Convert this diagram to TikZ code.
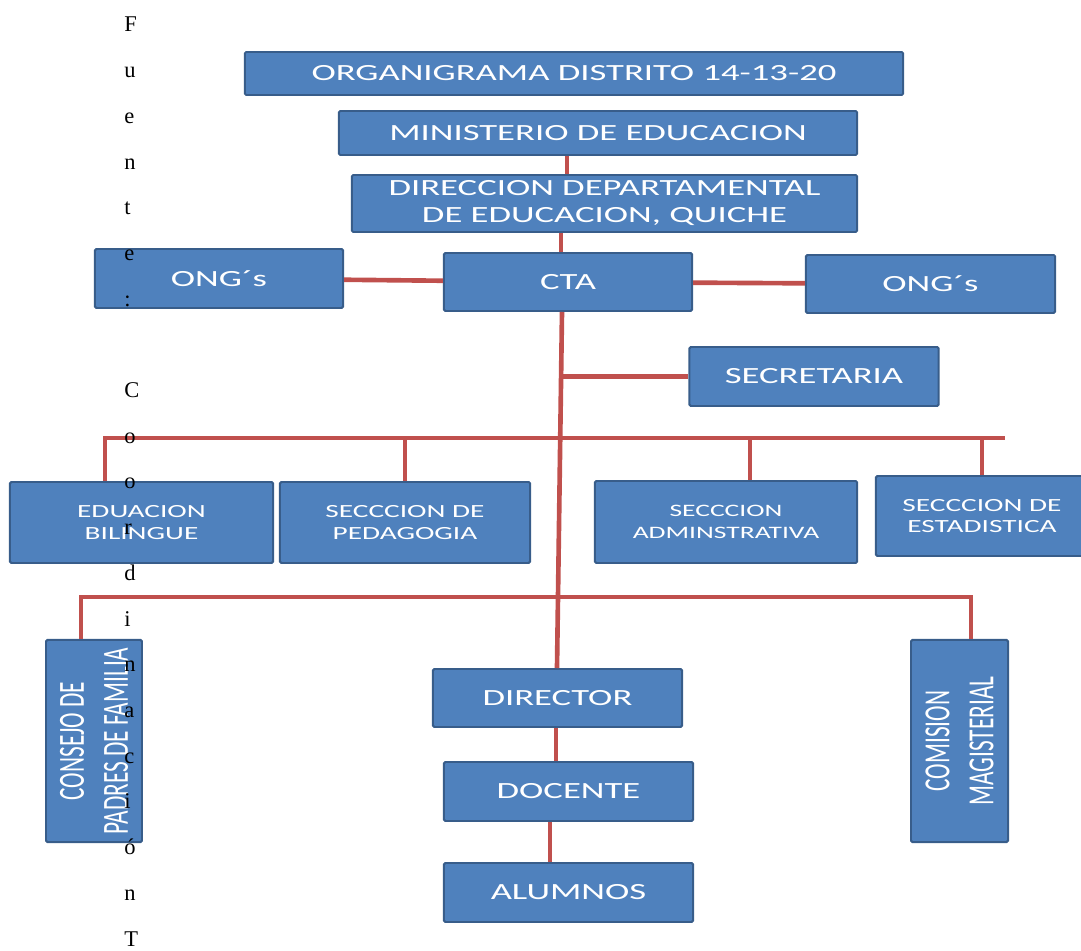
\documentclass[tikz,border=0pt]{standalone}
\usepackage{fontspec}
\setmainfont{Liberation Serif}
\newfontfamily\boxfont{Carlito}[FakeStretch=1.58]
\newfontfamily\vertfont{Carlito}[FakeStretch=0.633]
\usepackage{tikz}
\usetikzlibrary{positioning}
\definecolor{boxblue}{HTML}{4F81BD}
\definecolor{boxedge}{HTML}{385D8A}
\definecolor{linkred}{HTML}{C0504D}

\begin{document}
\begin{tikzpicture}[x=0.025cm,y=-0.025cm,
		org node/.style={rectangle,draw=boxedge,fill=boxblue,line width=1.4pt,rounded corners=1pt,text=white,align=center,inner sep=2pt},
		big node/.style={org node,font=\boxfont\fontsize{16.5}{19.2}\selectfont},
		small node/.style={org node,font=\boxfont\fontsize{13.2}{15.4}\selectfont},
		vert node/.style={org node,rotate=90,font=\vertfont\fontsize{26.2}{31.3}\selectfont},
		text node/.style={anchor=base west,inner sep=0pt,font=\fontsize{16}{19}\selectfont},
		link/.style={draw=linkred,line width=3.3pt}]
		
		\useasboundingbox (0,0) rectangle (1081,951);
		
		\node[big node,minimum width=16.45cm,minimum height=1.075cm] (title) at (574,73.5) {ORGANIGRAMA DISTRITO 14-13-20};
		\node[big node,minimum width=12.95cm,minimum height=1.1cm] (minis) at (598,133) {MINISTERIO DE EDUCACION};
		\node[big node,minimum width=12.625cm,minimum height=1.425cm] (direc) at (604.5,203.5) {DIRECCION DEPARTAMENTAL\\DE EDUCACION, QUICHE};
		\node[big node,minimum width=6.2cm,minimum height=1.475cm] (ongL) at (219,278.5) {ONG´s};
		\node[big node,minimum width=6.2cm,minimum height=1.45cm] (cta) at (568,282) {CTA};
		\node[big node,minimum width=6.225cm,minimum height=1.45cm] (ongR) at (930.5,284) {ONG´s};
		\node[big node,minimum width=6.225cm,minimum height=1.475cm] (secre) at (814,376.5) {SECRETARIA};
		
		\node[small node,minimum width=6.575cm,minimum height=2.025cm] (bilin) at (141.5,522.5) {EDUACION\\BILINGUE};
		\node[small node,minimum width=6.25cm,minimum height=2.025cm] (pedag) at (405,522.5) {SECCCION DE\\PEDAGOGIA};
		\node[small node,minimum width=6.55cm,minimum height=2.05cm,font=\boxfont\fontsize{12.4}{15.4}\selectfont] (admin) at (726,522) {SECCCION\\ADMINSTRATIVA};
		\node[small node,minimum width=5.3cm,minimum height=2cm] (estad) at (982,516) {SECCCION DE\\ESTADISTICA};
		
		\node[vert node,minimum width=5.05cm,minimum height=2.4cm] (consejo) at (94,741) {CONSEJO DE\\PADRES DE FAMILIA};
		\node[vert node,minimum width=5.05cm,minimum height=2.425cm] (comision) at (959.5,741) {COMISION\\MAGISTERIAL};
		\node[big node,minimum width=6.225cm,minimum height=1.45cm] (director) at (557.5,698) {DIRECTOR};
		\node[big node,minimum width=6.225cm,minimum height=1.475cm] (docente) at (568.5,791.5) {DOCENTE};
		\node[big node,minimum width=6.225cm,minimum height=1.475cm] (alumnos) at (568.5,892.5) {ALUMNOS};
		
		\coordinate (tkA) at (567,0);
		\coordinate (tkB) at (561,0);
		\coordinate (tkC) at (562,0);
		\coordinate (tkD) at (557,0);
		\coordinate (tkE) at (556,0);
		\coordinate (tkF) at (550,0);
		\coordinate (sj) at (561,376.5);
		\coordinate (b1L) at (105,438);
		\coordinate (b1R) at (1005,438);
		\coordinate (b2L) at (81,597);
		\coordinate (b2R) at (971,597);
		\coordinate (dA) at (750,0);
		
		\draw[link] (minis.south -| tkA) -- (direc.north -| tkA);
		\draw[link] (direc.south -| tkB) -- (cta.north -| tkB);
		\draw[link] (ongL) -- (cta);
		\draw[link] (cta) -- (ongR);
		\draw[link] (cta.south -| tkC) -- (director.north -| tkD);
		\draw[link] (sj) -- (secre.west);
		\draw[link] (bilin.north -| b1L) -- (b1L) -- (b1R);
		\draw[link] (pedag.north) -- (pedag.north |- b1L);
		\draw[link] (admin.north -| dA) -- (dA |- b1L);
		\draw[link] (estad.north) -- (estad.north |- b1R);
		\draw[link] (consejo.east -| b2L) -- (b2L) -- (b2R) -- (comision.east -| b2R);
		\draw[link] (director.south -| tkE) -- (docente.north -| tkE);
		\draw[link] (docente.south -| tkF) -- (alumnos.north -| tkF);
		
		\foreach \i/\ch in {0/F,1/u,2/e,3/n,4/t,5/e,6/:,8/C,9/o,10/o,11/r,12/d,13/i,14/n,15/a,16/c,17/i,18/ó,19/n,20/T}
			\node[text node] (src\i) at (124,{32+45.7*\i}) {\ch};
		
\end{tikzpicture}
\end{document}
